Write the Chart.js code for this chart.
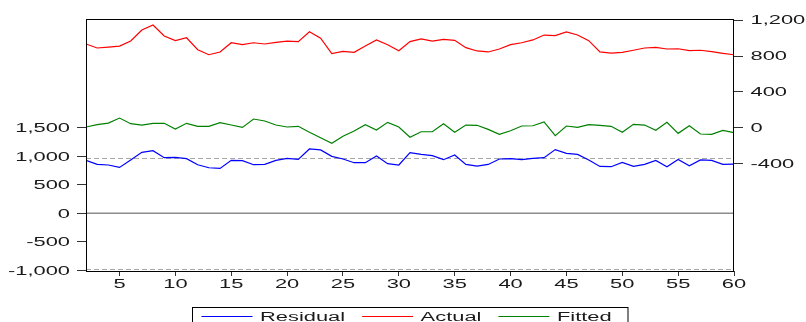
<!DOCTYPE html>
<html>
<head>
<meta charset="utf-8">
<script src="https://cdn.jsdelivr.net/npm/chart.js@4.4.1/dist/chart.umd.min.js"></script>
<style>
  html, body { margin: 0; padding: 0; background: #fff; }
  #wrap { width: 806px; height: 322px; }
</style>
</head>
<body>
<div id="wrap"><canvas id="resChart" width="806" height="322"></canvas></div>
<script>
// observation numbers (x axis)
const obs = [2, 3, 4, 5, 6, 7, 8, 9, 10, 11, 12, 13, 14, 15, 16, 17, 18, 19, 20, 21,
             22, 23, 24, 25, 26, 27, 28, 29, 30, 31, 32, 33, 34, 35, 36, 37, 38, 39, 40,
             41, 42, 43, 44, 45, 46, 47, 48, 49, 50, 51, 52, 53, 54, 55, 56, 57, 58, 59, 60];

// left axis
const residual = [926, 855, 845, 803, 933, 1067, 1096, 973, 979, 956, 850, 797, 785, 926, 920, 850, 855, 926, 961, 943,
                  1126, 1109, 996, 950, 885, 885, 1003, 868, 845, 1061, 1031, 1008, 938, 1021, 855, 827, 855, 950, 956,
                  938, 961, 973, 1114, 1049, 1031, 933, 820, 815, 891, 820, 855, 926, 815, 943, 832, 933, 926, 855, 862];

// right axis
const actual = [935, 890, 901, 912, 968, 1091, 1147, 1024, 972, 1005, 871, 815, 845, 949, 927, 949, 935, 954, 968, 961,
                1072, 999, 827, 853, 842, 913, 980, 927, 860, 961, 991, 968, 987, 976, 894, 857, 846, 879, 927,
                949, 980, 1035, 1028, 1069, 1035, 972, 846, 834, 842, 865, 890, 898, 879, 882, 860, 865, 849, 831, 815];
const fitted = [8, 34, 52, 108, 45, 30, 49, 49, -15, 49, 16, 16, 56, 30, 4, 97, 75, 30, 8, 16,
                -51, -112, -174, -96, -37, 34, -26, 60, 8, -107, -45, -45, 45, -51, 30, 27, -18, -74, -34,
                19, 22, 64, -89, 19, 4, 34, 27, 16, -51, 38, 30, -29, 60, -63, 22, -70, -74, -29, -56];

const xTicks = [5, 10, 15, 20, 25, 30, 35, 40, 45, 50, 55, 60];
const leftTicks = [-1000, -500, 0, 500, 1000, 1500];
const rightTicks = [-400, 0, 400, 800, 1200];
const seLines = [970, -970];   // +/- 1 S.E. of the residual

const FONT = '12.5px "Liberation Sans", Arial, sans-serif';
const STRETCH = 1.75; // eviews export has wide, stretched lettering

function fmt(v) { return v.toLocaleString('en-US'); }

// draw text squeezed out horizontally
function wideText(ctx, text, x, y, align) {
    ctx.save();
    ctx.translate(x, y);
    ctx.scale(STRETCH, 1);
    ctx.textAlign = align;
    ctx.textBaseline = 'alphabetic';
    ctx.fillText(text, 0, 0);
    ctx.restore();
}

const evStyle = {
    id: 'evStyle',
    beforeDatasetsDraw(chart) {
        const { ctx, chartArea: a, scales } = chart;
        ctx.save();
        // zero line
        const y0 = scales.y.getPixelForValue(0);
        ctx.strokeStyle = '#8c8c8c';
        ctx.lineWidth = 1.5;
        ctx.beginPath(); ctx.moveTo(a.left, y0); ctx.lineTo(a.right, y0); ctx.stroke();
        // dashed S.E. lines
        ctx.strokeStyle = '#a8a8a8';
        ctx.lineWidth = 1;
        ctx.setLineDash([5, 3]);
        seLines.forEach(v => {
            const p = Math.round(scales.y.getPixelForValue(v)) + 0.5;
            ctx.beginPath(); ctx.moveTo(a.left, p); ctx.lineTo(a.right, p); ctx.stroke();
        });
        ctx.restore();
    },
    afterDraw(chart) {
        const { ctx, chartArea: a, scales } = chart;
        ctx.save();
        // frame
        ctx.strokeStyle = '#000';
        ctx.lineWidth = 1;
        ctx.strokeRect(Math.round(a.left) + 0.5, Math.round(a.top) + 0.5,
                       Math.round(a.right - a.left) - 1, Math.round(a.bottom - a.top));

        // tick labels
        ctx.fillStyle = '#1a1a1a';
        ctx.font = FONT;
        scales.y.ticks.forEach(t => {
            wideText(ctx, fmt(t.value), a.left - 16, scales.y.getPixelForValue(t.value) + 4.5, 'right');
        });
        scales.y2.ticks.forEach(t => {
            wideText(ctx, fmt(t.value), a.right + 16.5, scales.y2.getPixelForValue(t.value) + 4, 'left');
        });
        scales.x.ticks.forEach(t => {
            wideText(ctx, fmt(t.value), scales.x.getPixelForValue(t.value), a.bottom + 17, 'center');
        });

        // legend box
        ctx.strokeStyle = '#000';
        ctx.strokeRect(192.5, 307.5, 435.5, 40);
        let x = 201.5;
        const ly = 316;
        chart.data.datasets.forEach(ds => {
            ctx.strokeStyle = ds.borderColor;
            ctx.lineWidth = 1.2;
            ctx.beginPath(); ctx.moveTo(x, ly + 0.5); ctx.lineTo(x + 51, ly + 0.5); ctx.stroke();
            const tx = x + 58.5;
            wideText(ctx, ds.label, tx, 320.5, 'left');
            x = tx + ctx.measureText(ds.label).width * STRETCH + 17;
        });
        ctx.restore();
    }
};

function pts(vals) { return obs.map((o, i) => ({ x: o, y: vals[i] })); }

const tickGrid = len => ({ drawOnChartArea: false, drawTicks: true, tickLength: len, color: '#333', lineWidth: 1 });

new Chart(document.getElementById('resChart'), {
    type: 'line',
    data: {
        datasets: [
            { label: 'Residual', data: pts(residual), borderColor: '#0000ff', yAxisID: 'y' },
            { label: 'Actual', data: pts(actual), borderColor: '#ff0000', yAxisID: 'y2' },
            { label: 'Fitted', data: pts(fitted), borderColor: '#008000', yAxisID: 'y2' }
        ]
    },
    options: {
        responsive: false,
        animation: false,
        layout: { padding: { top: 19, left: 0, right: 0, bottom: 0 } },
        elements: {
            point: { radius: 0 },
            line: { borderWidth: 1.2, tension: 0, fill: false }
        },
        plugins: { legend: { display: false }, tooltip: { enabled: false } },
        scales: {
            x: {
                type: 'linear', min: 2, max: 60,
                afterBuildTicks: s => { s.ticks = xTicks.map(v => ({ value: v })); },
                afterFit: s => { s.height = 51; },
                ticks: { display: false },
                grid: tickGrid(5),
                border: { display: false }
            },
            y: {
                position: 'left', min: -1010, max: 3400,
                afterBuildTicks: s => { s.ticks = leftTicks.map(v => ({ value: v })); },
                afterFit: s => { s.width = 86; },
                ticks: { display: false },
                grid: tickGrid(9),
                border: { display: false }
            },
            y2: {
                position: 'right', min: -1600, max: 1214,
                afterBuildTicks: s => { s.ticks = rightTicks.map(v => ({ value: v })); },
                afterFit: s => { s.width = 72; },
                ticks: { display: false },
                grid: tickGrid(9),
                border: { display: false }
            }
        }
    },
    plugins: [evStyle]
});
</script>
</body>
</html>
